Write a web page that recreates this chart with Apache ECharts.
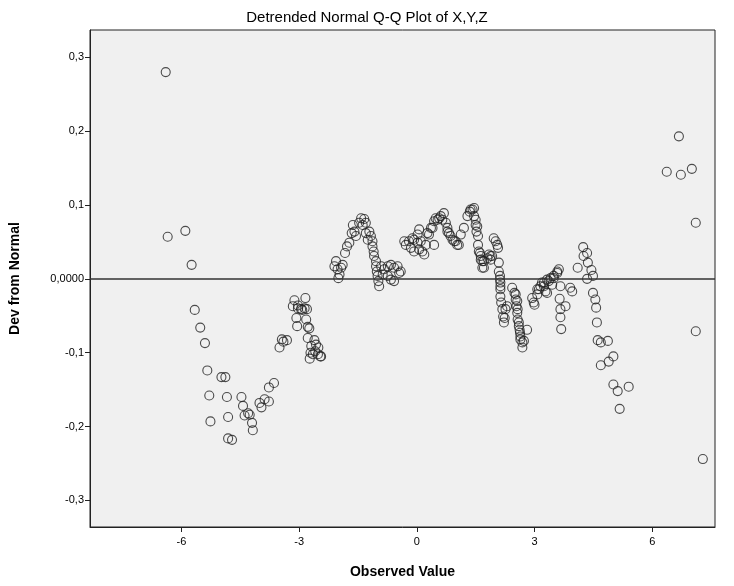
<!DOCTYPE html>
<html>
<head>
<meta charset="utf-8">
<script src="https://cdn.jsdelivr.net/npm/echarts@6/dist/echarts.min.js"></script>
<style>
  html, body { margin: 0; padding: 0; background: #fff; }
  #chart { width: 734px; height: 586px; }
</style>
</head>
<body>
<div id="chart"></div>
<script>
const observed = [
  -6.40, -6.35, -5.90, -5.74, -5.66, -5.52, -5.40, -5.34, -5.29, -5.26,
  -4.98, -4.88, -4.84, -4.81, -4.81, -4.71, -4.47, -4.43, -4.39, -4.30,
  -4.26, -4.20, -4.18, -4.01, -3.96, -3.88, -3.77, -3.77, -3.64, -3.50,
  -3.44, -3.40, -3.31,
  -3.16, -3.12, -3.07, -3.05, -3.03, -3.03, -2.95, -2.92, -2.86, -2.84,
  -2.80, -2.82, -2.78, -2.78, -2.74, -2.73, -2.71, -2.69, -2.61, -2.59,
  -2.57, -2.52, -2.51, -2.46, -2.65, -2.44,
  -2.10, -2.06, -2.02, -2.00, -1.97, -1.93, -1.89, -1.83, -1.78, -1.72,
  -1.66, -1.63, -1.59, -1.55, -1.47, -1.42, -1.38, -1.34, -1.30, -1.30,
  -1.25, -1.21, -1.17, -1.13, -1.13, -1.10, -1.09, -1.04, -1.04, -1.02,
  -1.00, -0.98, -0.96, -0.91, -0.87, -0.83, -0.74, -0.74, -0.66, -0.66,
  -0.58, -0.58, -0.49, -0.41, -0.45,
  -0.32, -0.28, -0.20, -0.15, -0.11, -0.07, -0.07, 0.02, 0.02, 0.06,
  0.06, 0.10, 0.14, 0.19, 0.23, 0.27, 0.31, 0.36, 0.40, 0.44,
  0.44, 0.48, 0.53, 0.57, 0.61, 0.65, 0.69, 0.74, 0.78, 0.78,
  0.82, 0.86, 0.91, 0.95, 0.99, 1.03, 1.07, 1.12, 1.20, 1.29,
  1.35, 1.37, 1.42, 1.46, 1.46, 1.50, 1.50, 1.54, 1.52, 1.56,
  1.56, 1.58, 1.61, 1.63, 1.63, 1.67, 1.67, 1.71, 1.71, 1.80,
  1.84, 1.88, 1.92, 1.88,
  1.96, 2.01, 2.05, 2.07, 2.09, 2.09, 2.12, 2.12, 2.13, 2.13,
  2.13, 2.13, 2.15, 2.18, 2.20, 2.22, 2.24, 2.26, 2.30,
  2.43, 2.49, 2.52, 2.52, 2.54, 2.56, 2.56, 2.57, 2.57, 2.60,
  2.60, 2.62, 2.63, 2.64, 2.64, 2.69, 2.69, 2.73, 2.81,
  2.94, 2.98, 3.00, 3.07, 3.07, 3.11, 3.15, 3.19, 3.24, 3.24,
  3.28, 3.32, 3.32, 3.36, 3.41, 3.45, 3.49, 3.49, 3.58, 3.58,
  3.62, 3.66, 3.64, 3.66, 3.66, 3.68, 3.79, 3.91, 3.96, 4.10,
  4.24, 4.25, 4.34, 4.36, 4.45, 4.49, 4.34, 4.49, 4.55, 4.57,
  4.59, 4.61, 4.69, 4.87, 4.69, 4.89, 5.01, 5.01, 5.12, 5.17,
  5.40, 6.37, 6.68, 6.73, 7.01, 7.11, 7.11, 7.29
];
const deviation = [
  0.280, 0.057, 0.065, 0.019, -0.042, -0.066, -0.087, -0.124, -0.158, -0.193,
  -0.133, -0.133, -0.160, -0.187, -0.216, -0.218, -0.160, -0.172, -0.185, -0.182,
  -0.184, -0.195, -0.205, -0.168, -0.174, -0.163, -0.166, -0.147, -0.141, -0.093,
  -0.082, -0.085, -0.083,
  -0.037, -0.029, -0.053, -0.064, -0.036, -0.040, -0.041, -0.042, -0.040, -0.026,
  -0.041, -0.055, -0.065, -0.080, -0.067, -0.108, -0.100, -0.091, -0.083, -0.098,
  -0.089, -0.102, -0.093, -0.105, -0.102, -0.105,
  0.017, 0.024, 0.013, 0.001, 0.006, 0.015, 0.019, 0.035, 0.044, 0.049,
  0.062, 0.073, 0.064, 0.058, 0.076, 0.082, 0.073, 0.081, 0.076, 0.062,
  0.053, 0.064, 0.058, 0.051, 0.044, 0.037, 0.031, 0.024, 0.017, 0.010,
  0.004, -0.003, -0.010, 0.017, 0.006, 0.013, 0.017, 0.004, 0.019, -0.001,
  0.015, -0.003, 0.017, 0.010, 0.008,
  0.051, 0.046, 0.051, 0.042, 0.055, 0.037, 0.053, 0.049, 0.060, 0.067,
  0.040, 0.051, 0.037, 0.033, 0.046, 0.062, 0.060, 0.069, 0.069, 0.078,
  0.046, 0.082, 0.080, 0.082, 0.085, 0.080, 0.089, 0.076, 0.069, 0.064,
  0.062, 0.058, 0.053, 0.051, 0.051, 0.046, 0.046, 0.060, 0.069, 0.085,
  0.091, 0.094, 0.094, 0.085, 0.096, 0.080, 0.073, 0.071, 0.064, 0.058,
  0.046, 0.037, 0.035, 0.031, 0.026, 0.024, 0.015, 0.024, 0.015, 0.028,
  0.033, 0.031, 0.031, 0.026,
  0.055, 0.051, 0.046, 0.042, 0.022, 0.010, 0.004, -0.001, -0.005, -0.010,
  -0.014, -0.024, -0.032, -0.041, -0.051, -0.059, -0.053, -0.041, -0.037,
  -0.012, -0.019, -0.021, -0.028, -0.037, -0.030, -0.046, -0.041, -0.055, -0.059,
  -0.064, -0.069, -0.073, -0.078, -0.082, -0.086, -0.093, -0.084, -0.069,
  -0.026, -0.032, -0.035, -0.014, -0.021, -0.014, -0.010, -0.005, -0.005, -0.010,
  -0.017, -0.001, -0.019, -0.003, 0.001, -0.008, 0.004, 0.001, 0.010, 0.008,
  0.013, -0.010, -0.027, -0.041, -0.052, -0.068, -0.037, -0.012, -0.017, 0.015,
  0.043, 0.031, 0.035, 0.022, 0.012, 0.004, 0.000, -0.019, -0.028, -0.039,
  -0.059, -0.083, -0.086, -0.084, -0.117, -0.112, -0.105, -0.143, -0.152, -0.176,
  -0.146, 0.145, 0.193, 0.141, 0.149, 0.076, -0.071, -0.244
];
const xTicks = [-6, -3, 0, 3, 6];
const yTicks = [-0.3, -0.2, -0.1, 0, 0.1, 0.2, 0.3];

const points = observed.map((x, i) => [x, deviation[i]]);

const chart = echarts.init(document.getElementById("chart"));
const font = "'Liberation Sans', Arial, sans-serif";

chart.setOption({
  animation: false,
  title: {
    text: "Detrended Normal Q-Q Plot of X,Y,Z",
    left: "center",
    top: 5,
    textStyle: { fontFamily: font, fontSize: 15, fontWeight: "normal", color: "#000" },
  },
  grid: {
    left: 89,
    right: 19,
    top: 30,
    bottom: 59,
    show: true,
    backgroundColor: "#f0f0f0",
    borderColor: "#222",
    borderWidth: 1,
  },
  xAxis: {
    type: "value",
    min: -8.33,
    max: 7.6,
    name: "Observed Value",
    nameLocation: "middle",
    nameGap: 38,
    nameTextStyle: { fontFamily: font, fontSize: 14, fontWeight: "bold", color: "#000" },
    axisLine: { show: true, onZero: false, lineStyle: { color: "#222" } },
    axisTick: { show: true, length: 5, customValues: xTicks, lineStyle: { color: "#222" } },
    axisLabel: {
      customValues: xTicks,
      fontFamily: font, fontSize: 11, color: "#000", margin: 9,
      formatter: (v) => String(v),
    },
    splitLine: { show: false },
  },
  yAxis: {
    type: "value",
    min: -0.336,
    max: 0.337,
    name: "Dev from Normal",
    nameLocation: "middle",
    nameGap: 68,
    nameTextStyle: { fontFamily: font, fontSize: 14, fontWeight: "bold", color: "#000" },
    axisLine: { show: true, onZero: false, lineStyle: { color: "#222" } },
    axisTick: { show: true, length: 5, customValues: yTicks, lineStyle: { color: "#222" } },
    axisLabel: {
      customValues: yTicks,
      fontFamily: font, fontSize: 11, color: "#000", margin: 6,
      formatter: (v) => Math.abs(v) < 1e-9 ? "0,0000" : v.toFixed(1).replace(".", ","),
    },
    splitLine: { show: false },
  },
  series: [
    {
      type: "scatter",
      data: points,
      symbol: "circle",
      symbolSize: 9,
      itemStyle: { color: "rgba(0,0,0,0)", borderColor: "#222", borderWidth: 1.1 },
      markLine: {
        silent: true,
        symbol: ["none", "none"],
        label: { show: false },
        lineStyle: { color: "#333", width: 1.5, type: "solid" },
        data: [{ yAxis: 0 }],
      },
    },
  ],
});
</script>
</body>
</html>
